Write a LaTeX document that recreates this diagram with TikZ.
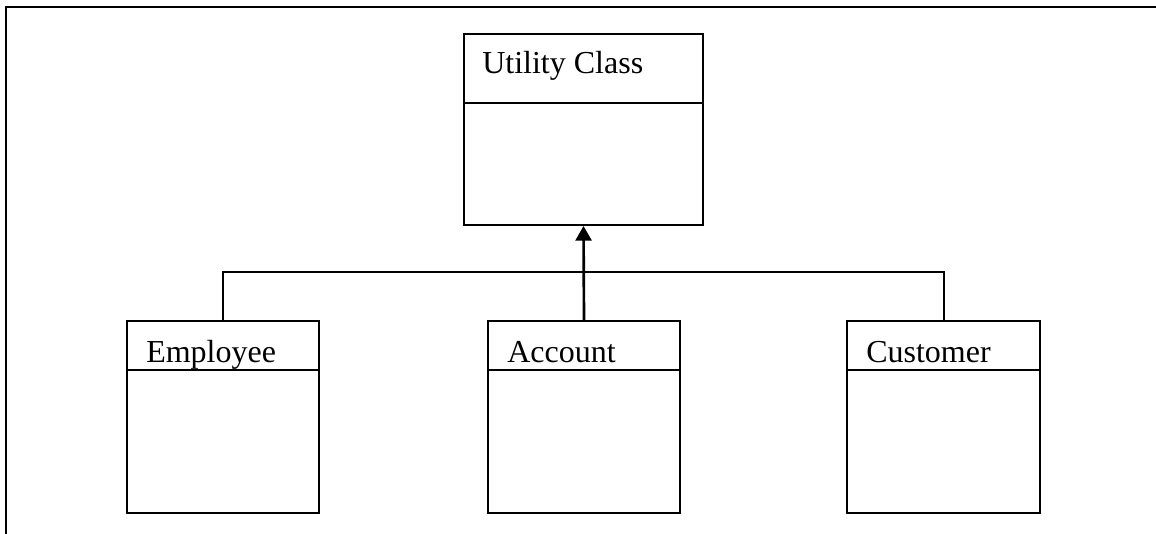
\documentclass[tikz,border=0pt]{standalone}
\usepackage{fontspec}
\setmainfont{Liberation Serif}
\usetikzlibrary{arrows.meta}
\begin{document}
\begin{tikzpicture}[x=0.75pt,y=-0.75pt,
  box/.style={draw, line width=1.5pt, minimum width=#1*0.75pt, inner sep=0pt, anchor=north west},
  lbl/.style={anchor=base west, inner sep=0pt, font=\fontsize{24}{28}\selectfont},
  ln/.style={line width=1.5pt}]
\useasboundingbox (0,0) rectangle (1156,533);
\draw[line width=1.8pt] (1160,7) -- (6,7) -- (6,540);
% Utility
\node[box=239, minimum height=191*0.75pt] (util) at (463,33) {};
\draw[ln] (463,103) -- (702,103);
\node[lbl] (utilt) at (482,73) {Utility Class};
% Employee
\node[box=192, minimum height=192*0.75pt] (emp) at (126,320) {};
\draw[ln] (126,370) -- (318,370);
\node[lbl] (empt) at (146,362) {Employee};
% Account
\node[box=192, minimum height=192*0.75pt] (acc) at (487,320) {};
\draw[ln] (487,370) -- (679,370);
\node[lbl] (acct) at (507,362) {Account};
% Customer
\node[box=193, minimum height=192*0.75pt] (cust) at (846,320) {};
\draw[ln] (846,370) -- (1039,370);
\node[lbl] (custt) at (866,362) {Customer};
% connectors
\draw[ln] (emp.north) -- ++(0,-48) -| (cust.north);
\draw[line width=2pt, -{Triangle[length=11pt,width=12pt]}] (acc.north) -- (util.south);
\end{tikzpicture}
\end{document}
